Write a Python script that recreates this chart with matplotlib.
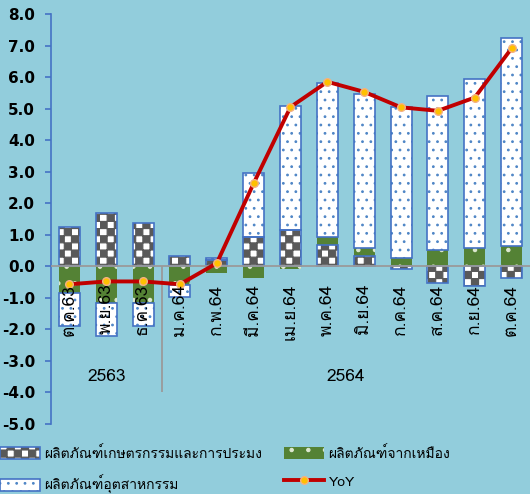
import warnings
import numpy as np
import matplotlib
matplotlib.use("Agg")
import matplotlib.pyplot as plt
import matplotlib.hatch as mhatch
from matplotlib.path import Path
from matplotlib import font_manager as fm
from matplotlib.ft2font import FT2Font

warnings.filterwarnings("ignore")

# data (percent, contribution to YoY)
months = ['ต.ค.63', 'พ.ย.63', 'ธ.ค.63', 'ม.ค.64', 'ก.พ.64', 'มี.ค.64', 'เม.ย.64',
          'พ.ค.64', 'มิ.ย.64', 'ก.ค.64', 'ส.ค.64', 'ก.ย.64', 'ต.ค.64']
agri = [1.25, 1.68, 1.36, 0.33, 0.20, 0.92, 1.15, 0.67, 0.33, -0.07, -0.52, -0.63, -0.37]
mining = [-0.85, -1.16, -1.16, -0.58, -0.22, -0.38, -0.10, 0.27, 0.26, 0.26, 0.53, 0.59, 0.63]
industry = [-1.03, -1.04, -0.72, -0.39, 0.07, 2.03, 3.93, 4.87, 4.87, 4.80, 4.87, 5.35, 6.60]
yoy = [-0.57, -0.48, -0.48, -0.57, 0.10, 2.63, 5.05, 5.85, 5.53, 5.04, 4.93, 5.35, 6.91]
years = ['2563', '2564']
year_pos = [1.0, 7.5]
yticks = np.arange(-5, 9, 1)

labels = ['ผลิตภัณฑ์เกษตรกรรมและการประมง', 'ผลิตภัณฑ์จากเหมือง',
          'ผลิตภัณฑ์อุตสาหกรรม', 'YoY']

BG = '#92CDDC'
BLUE = '#4472C4'
DOT = '#4F86C6'
GREEN = '#548235'
DARK = '#595959'


class CheckerHatch(mhatch.HatchPatternBase):
    """checkerboard hatch, letter 'c'"""
    def __init__(self, hatch, density):
        self.n = 14 if 'c' in hatch else 0
        self.num_vertices = (self.n * self.n // 2) * 5

    def set_vertices_and_codes(self, vertices, codes):
        s = 1.0 / self.n
        k = 0
        for i in range(self.n):
            for j in range(self.n):
                if (i + j) % 2 == 0:
                    x0, y0 = i * s, j * s
                    vertices[k:k + 5] = [(x0, y0), (x0 + s, y0), (x0 + s, y0 + s),
                                         (x0, y0 + s), (x0, y0)]
                    codes[k:k + 5] = [Path.MOVETO, Path.LINETO, Path.LINETO,
                                      Path.LINETO, Path.CLOSEPOLY]
                    k += 5


mhatch._hatch_types.append(CheckerHatch)


def find_thai_fonts():
    found = []
    for f in fm.fontManager.ttflist:
        try:
            ft = FT2Font(f.fname)
            if ft.get_char_index(0x0E01) and ft.get_char_index(0x0E31):
                if f.name not in found:
                    found.append(f.name)
        except Exception:
            pass
    pref = [n for n in found if 'Sans' in n or 'Loma' in n or 'Tahoma' in n]
    return pref + [n for n in found if n not in pref]


thai = find_thai_fonts()
plt.rcParams['font.family'] = thai[:1] + ['DejaVu Sans']
plt.rcParams['axes.unicode_minus'] = False
plt.rcParams['hatch.linewidth'] = 0.8

fig = plt.figure(figsize=(5.3, 4.94), dpi=100, facecolor=BG)
ax = fig.add_axes([0.0962, 0.1417, 0.9038, 0.83])
ax.set_facecolor(BG)

x = np.arange(len(months))
w = 0.57
pos = np.zeros(len(months))
neg = np.zeros(len(months))


def stack(vals):
    v = np.array(vals)
    b = np.where(v >= 0, pos, neg)
    pos[:] = np.where(v >= 0, pos + v, pos)
    neg[:] = np.where(v < 0, neg + v, neg)
    return v, b


v, b = stack(agri)
b_agri = ax.bar(x, v, w, bottom=b, color='white', edgecolor=DARK, hatch='c', lw=0, zorder=2)
b_agri_e = ax.bar(x, v, w, bottom=b, fill=False, edgecolor=BLUE, lw=1.2, zorder=2.1)
v, b = stack(mining)
b_min = ax.bar(x, v, w, bottom=b, color=GREEN, edgecolor='#DDE8D0', hatch='.', lw=0, zorder=2)
v, b = stack(industry)
b_ind = ax.bar(x, v, w, bottom=b, color='white', edgecolor=DOT, hatch='..', lw=0, zorder=2)
b_ind_e = ax.bar(x, v, w, bottom=b, fill=False, edgecolor=BLUE, lw=1.2, zorder=2.1)

ax.axhline(0, color='#9A9A9A', lw=1.3, zorder=3)
ax.vlines(2.5, -4.0, 0, color='#9A9A9A', lw=1.3, zorder=3)

yoy_line, = ax.plot(x, yoy, color='#C00000', lw=2.8, marker='o', ms=5.5,
                    mfc='#FFC000', mec='#F4B183', mew=1, zorder=4)

for i, m in enumerate(months):
    ax.text(i, -0.55, m, rotation=90, ha='center', va='top', fontsize=12.5, zorder=5)
for yr, xp in zip(years, year_pos):
    ax.text(xp, -3.5, yr, ha='center', va='center', fontsize=12.5)

ax.set_xlim(-0.5, len(months) - 0.5)
ax.set_ylim(-5, 8)
ax.set_yticks(yticks)
ax.set_yticklabels([f'{t:.1f}' for t in yticks], fontweight='bold', fontsize=11,
                   family='DejaVu Sans')
ax.set_xticks([])
for s in ['top', 'right', 'bottom']:
    ax.spines[s].set_visible(False)
ax.spines['left'].set_color(BLUE)
ax.spines['left'].set_linewidth(1.2)
ax.tick_params(axis='y', colors=BLUE, length=4.5, width=1.2, pad=7, labelcolor='black')

leg_kw = dict(frameon=False, fontsize=10, handlelength=2.9, handleheight=0.95,
              handletextpad=0.3, labelspacing=1.0, borderpad=0, borderaxespad=0,
              loc='upper left')
fig.legend([(b_agri, b_agri_e), (b_ind, b_ind_e)], [labels[0], labels[2]],
           bbox_to_anchor=(0.0, 0.097), **leg_kw)
fig.legend([b_min, yoy_line], [labels[1], labels[3]],
           bbox_to_anchor=(284 / 530, 0.097), **leg_kw)

fig.savefig('out.png', dpi=100, facecolor=BG)
